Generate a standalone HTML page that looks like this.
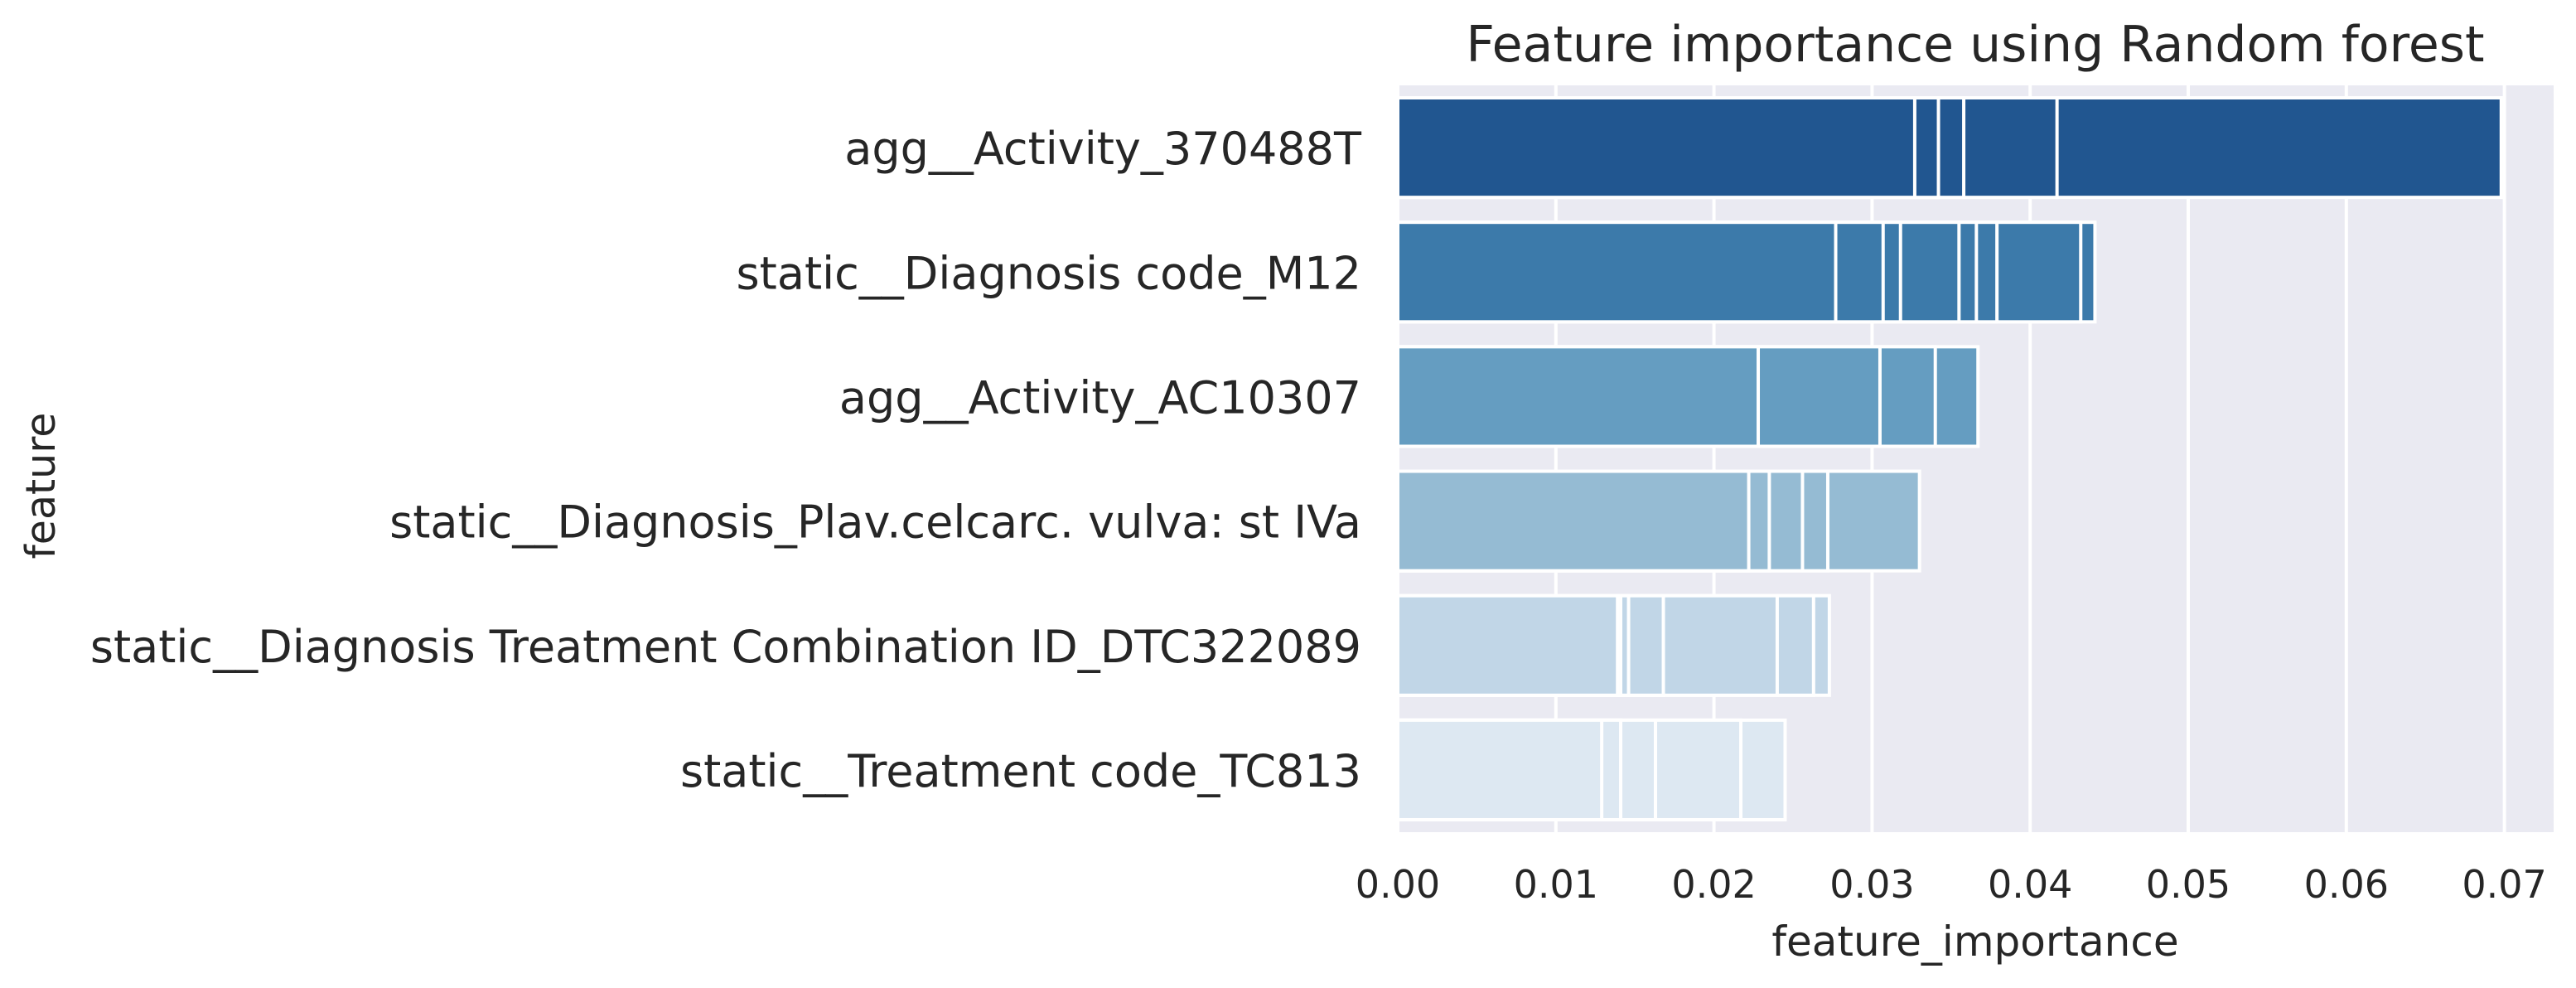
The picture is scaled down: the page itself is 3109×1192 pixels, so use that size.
<!DOCTYPE html>
<html><head><meta charset="utf-8"><style>
html,body{margin:0;padding:0;background:#fff;}
svg text{font-family:"DejaVu Sans","Liberation Sans",sans-serif;fill:#262626;}
</style></head><body>
<svg id="chart" width="3109" height="1187" viewBox="0 0 3109 1187" xmlns="http://www.w3.org/2000/svg">
<rect x="1687" y="103" width="1395" height="901" fill="#eaeaf2"/>
<g id="grid"></g>
<g id="bars"></g>
<g id="ylabels"></g>
<g id="xticks"></g>
<text x="2384" y="74" font-size="60" text-anchor="middle">Feature importance using Random forest</text>
<text x="2384" y="1153" font-size="50" text-anchor="middle">feature_importance</text>
<text x="66" y="586" font-size="49" text-anchor="middle" transform="rotate(-90 66 586)">feature</text>
</svg>
<script>
const features = ["agg__Activity_370488T","static__Diagnosis code_M12","agg__Activity_AC10307","static__Diagnosis_Plav.celcarc. vulva: st IVa","static__Diagnosis Treatment Combination ID_DTC322089","static__Treatment code_TC813"];
const values0 = [0.0327,0.0342,0.0358,0.0417,0.0698];
const values1 = [0.0277,0.0307,0.0318,0.0355,0.0366,0.0379,0.0432,0.0441];
const values2 = [0.0228,0.0305,0.0340,0.0367];
const values3 = [0.0222,0.0235,0.0256,0.0272,0.0330];
const values4 = [0.0139,0.0141,0.0146,0.0168,0.0240,0.0263,0.0273];
const values5 = [0.0129,0.0141,0.0163,0.0217,0.0245];
const colors = ["#215690","#3c7aaa","#659dc1","#95bbd3","#c1d6e7","#dde8f2"];
const xTicks = [0,0.01,0.02,0.03,0.04,0.05,0.06,0.07];
const xTickLabels = ["0.00","0.01","0.02","0.03","0.04","0.05","0.06","0.07"];
const allValues = [values0,values1,values2,values3,values4,values5];
(function(){
const NS="http://www.w3.org/2000/svg";
const x0=1687, perUnit=19080, plotTop=103, plotBottom=1004, slot=(plotBottom-plotTop)/6;
function xs(v){return x0+v*perUnit;}
function yc(i){return plotTop+slot*(i+0.5);}
const grid=document.getElementById('grid'), bars=document.getElementById('bars'), yl=document.getElementById('ylabels'), xt=document.getElementById('xticks');
xTicks.forEach((t,i)=>{
  const l=document.createElementNS(NS,'line');
  
  
  l.setAttribute('x1',xs(t));l.setAttribute('x2',xs(t));l.setAttribute('y1',plotTop);l.setAttribute('y2',plotBottom);
  l.setAttribute('stroke','#fff');l.setAttribute('stroke-width',4);
  grid.appendChild(l);
  const tx=document.createElementNS(NS,'text');
  
  
  tx.setAttribute('x',xs(t));tx.setAttribute('y',1083);tx.setAttribute('font-size',46);tx.setAttribute('text-anchor','middle');
  tx.textContent=xTickLabels[i];
  xt.appendChild(tx);
});
features.forEach((f,i)=>{
  const vals=allValues[i].slice().sort((a,b)=>b-a);
  const h=slot*0.8;
  vals.forEach(v=>{
    const r=document.createElementNS(NS,'rect');
    
    
    r.setAttribute('x',xs(0));r.setAttribute('y',yc(i)-h/2);
    r.setAttribute('width',xs(v)-xs(0));r.setAttribute('height',h);
    r.setAttribute('fill',colors[i]);r.setAttribute('stroke','#fff');r.setAttribute('stroke-width',4);
    bars.appendChild(r);
  });
  const t=document.createElementNS(NS,'text');
  
  
  t.setAttribute('x',1643);t.setAttribute('y',yc(i)+20);t.setAttribute('font-size',54);t.setAttribute('text-anchor','end');
  t.textContent=f;
  yl.appendChild(t);
});
})();
</script>
</body></html>
